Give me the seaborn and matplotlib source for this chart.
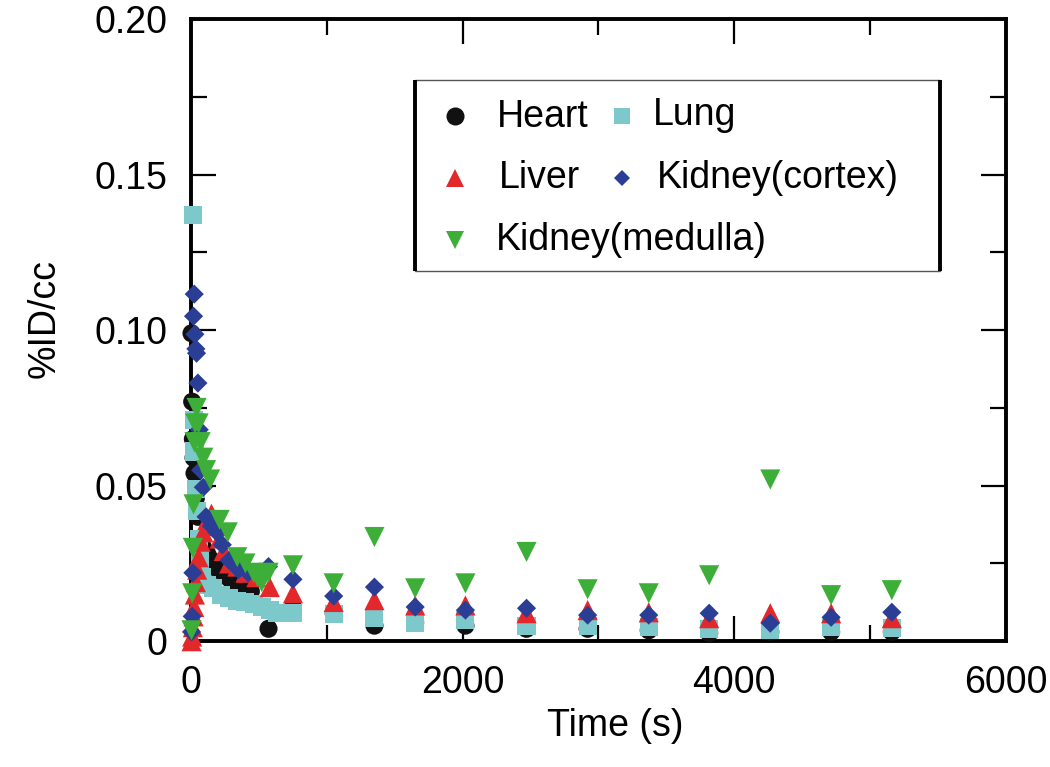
import matplotlib
matplotlib.use("Agg")
import matplotlib.pyplot as plt
import matplotlib.patches as mpatches
from matplotlib.ticker import MultipleLocator, FuncFormatter
import seaborn as sns
import pandas as pd

# late frames are shared by all organs
late_t = [750, 1050, 1350, 1650, 2020, 2470, 2920, 3370, 3815, 4265, 4713, 5160]

heart_t = [3, 8, 13, 18, 25, 35, 50, 90, 120, 150, 200, 250, 300, 350, 400, 440, 570]
heart_v = [0.099, 0.077, 0.065, 0.059, 0.054, 0.046, 0.040, 0.030, 0.028, 0.026,
           0.023, 0.021, 0.019, 0.017, 0.0165, 0.016, 0.004]
heart_late = [0.011, 0.009, 0.005, 0.006, 0.005, 0.004, 0.004, 0.0035, 0.0026, 0.003, 0.003, 0.003]

lung_t = [15, 20, 25, 35, 45, 55, 65, 80, 120, 160, 220, 280, 340, 400, 460, 520, 580, 630]
lung_v = [0.137, 0.071, 0.061, 0.049, 0.042, 0.033, 0.026, 0.0206, 0.018, 0.017,
          0.015, 0.014, 0.013, 0.0125, 0.012, 0.011, 0.010, 0.009]
lung_late = [0.009, 0.0087, 0.0074, 0.006, 0.0067, 0.005, 0.005, 0.0045, 0.0039, 0.0035, 0.0045, 0.0042]

liver_t = [3, 8, 13, 18, 23, 28, 35, 45, 55, 70, 90, 120, 150, 180, 210, 240, 280, 340, 400, 480, 580]
liver_v = [0.0, 0.0015, 0.0045, 0.008, 0.011, 0.015, 0.019, 0.023, 0.027, 0.032, 0.035,
           0.039, 0.041, 0.037, 0.033, 0.029, 0.025, 0.024, 0.022, 0.0206, 0.0174]
liver_late = [0.0154, 0.0126, 0.0132, 0.0115, 0.0115, 0.009, 0.010, 0.0093, 0.0074, 0.009, 0.009, 0.0074]

cortex_t = [3, 8, 13, 18, 23, 28, 35, 40, 50, 60, 70, 90, 110, 150, 190, 230, 280, 350, 420, 570]
cortex_v = [0.003, 0.008, 0.022, 0.1045, 0.1116, 0.0987, 0.094, 0.0926, 0.083, 0.068,
            0.055, 0.0495, 0.040, 0.037, 0.035, 0.031, 0.026, 0.023, 0.022, 0.024]
cortex_late = [0.0199, 0.0145, 0.0174, 0.011, 0.010, 0.0106, 0.0084, 0.0084, 0.009, 0.0058, 0.0077, 0.0093]

medulla_t = [3, 8, 13, 18, 25, 30, 40, 55, 70, 90, 110, 140, 210, 270, 340, 400, 460, 490, 520, 570]
medulla_v = [0.0035, 0.0154, 0.030, 0.044, 0.064, 0.070, 0.075, 0.070, 0.064, 0.059, 0.055,
             0.052, 0.039, 0.035, 0.027, 0.025, 0.022, 0.0206, 0.019, 0.022]
medulla_late = [0.0244, 0.0186, 0.0335, 0.017, 0.0186, 0.0287, 0.0167, 0.0154, 0.0212, 0.052, 0.0148, 0.0164]

organs  = ["Heart", "Lung", "Liver", "Kidney(cortex)", "Kidney(medulla)"]
colors  = {"Heart": "#111111", "Lung": "#7CC8CA", "Liver": "#E3282B",
           "Kidney(cortex)": "#2B3E95", "Kidney(medulla)": "#3DAE38"}
markers = {"Heart": "o", "Lung": "s", "Liver": "^",
           "Kidney(cortex)": "D", "Kidney(medulla)": "v"}
sizes   = {"Heart": 170, "Lung": 170, "Liver": 210,
           "Kidney(cortex)": 95, "Kidney(medulla)": 210}

series = {
    "Heart": (heart_t, heart_v, heart_late),
    "Lung": (lung_t, lung_v, lung_late),
    "Liver": (liver_t, liver_v, liver_late),
    "Kidney(cortex)": (cortex_t, cortex_v, cortex_late),
    "Kidney(medulla)": (medulla_t, medulla_v, medulla_late),
}

frames = []
for name in organs:
    t, v, vl = series[name]
    frames.append(pd.DataFrame({"t": list(t) + late_t, "v": list(v) + vl, "organ": name}))
df = pd.concat(frames, ignore_index=True)

sns.set_style("ticks")
plt.rcParams["font.family"] = ["Liberation Sans", "DejaVu Sans"]
plt.rcParams["text.color"] = "black"

fig, ax = plt.subplots(figsize=(10.5, 7.67), dpi=100)
fig.subplots_adjust(left=0.182, right=0.958, bottom=0.164, top=0.975)

sns.scatterplot(data=df, x="t", y="v", hue="organ", style="organ", size="organ",
                hue_order=organs, style_order=organs, size_order=organs,
                palette=colors, markers=markers, sizes=sizes,
                linewidth=0, ax=ax, legend=False, clip_on=False, zorder=3)

ax.set_xlim(0, 6000)
ax.set_ylim(0, 0.20)
ax.xaxis.set_major_locator(MultipleLocator(2000))
ax.xaxis.set_minor_locator(MultipleLocator(1000))
ax.yaxis.set_major_locator(MultipleLocator(0.05))
ax.yaxis.set_minor_locator(MultipleLocator(0.025))
ax.yaxis.set_major_formatter(FuncFormatter(lambda y, _: "0" if y == 0 else f"{y:.2f}"))
ax.tick_params(which="both", direction="in", top=True, right=True, width=1.6,
               labelsize=27, pad=17, colors="black")
ax.tick_params(which="major", length=18)
ax.tick_params(which="minor", length=11.5)
for sp in ax.spines.values():
    sp.set_linewidth(2.8)
    sp.set_color("black")

ax.set_xlabel("Time (s)", fontsize=27, color="black")
ax.set_ylabel("%ID/cc", fontsize=27, color="black")
ax.xaxis.set_label_coords(0.521, -0.107)
ax.yaxis.set_label_coords(-0.158, 0.519)

# legend box drawn by hand so "Kidney(medulla)" can run under both columns
box = mpatches.Rectangle((0.2748, 0.5949), 0.6442, 0.307, transform=ax.transAxes,
                         facecolor="white", edgecolor="#555555", linewidth=1.0, zorder=4)
ax.add_patch(box)
for xe in (0.2748, 0.919):
    ax.plot([xe, xe], [0.5949, 0.9019], transform=ax.transAxes, color="black",
            linewidth=2.8, solid_capstyle="butt", zorder=5)

leg_items = [
    ("Heart",           0.3239, 0.8441, 0.3755, 0.8264, 13),
    ("Lung",            0.5288, 0.8441, 0.5669, 0.8296, 12),
    ("Liver",           0.3239, 0.7444, 0.3779, 0.7283, 13),
    ("Kidney(cortex)",  0.5288, 0.7444, 0.5718, 0.7283, 8.5),
    ("Kidney(medulla)", 0.3239, 0.6447, 0.3742, 0.6286, 13),
]
for name, mx, my, tx, ty, ms in leg_items:
    ax.plot([mx], [my], marker=markers[name], color=colors[name], markersize=ms,
            markeredgewidth=0, linestyle="none", transform=ax.transAxes, zorder=6)
    ax.text(tx, ty, name, transform=ax.transAxes, fontsize=27, va="baseline",
            ha="left", color="black", zorder=6)

fig.savefig("out.png", dpi=100)
